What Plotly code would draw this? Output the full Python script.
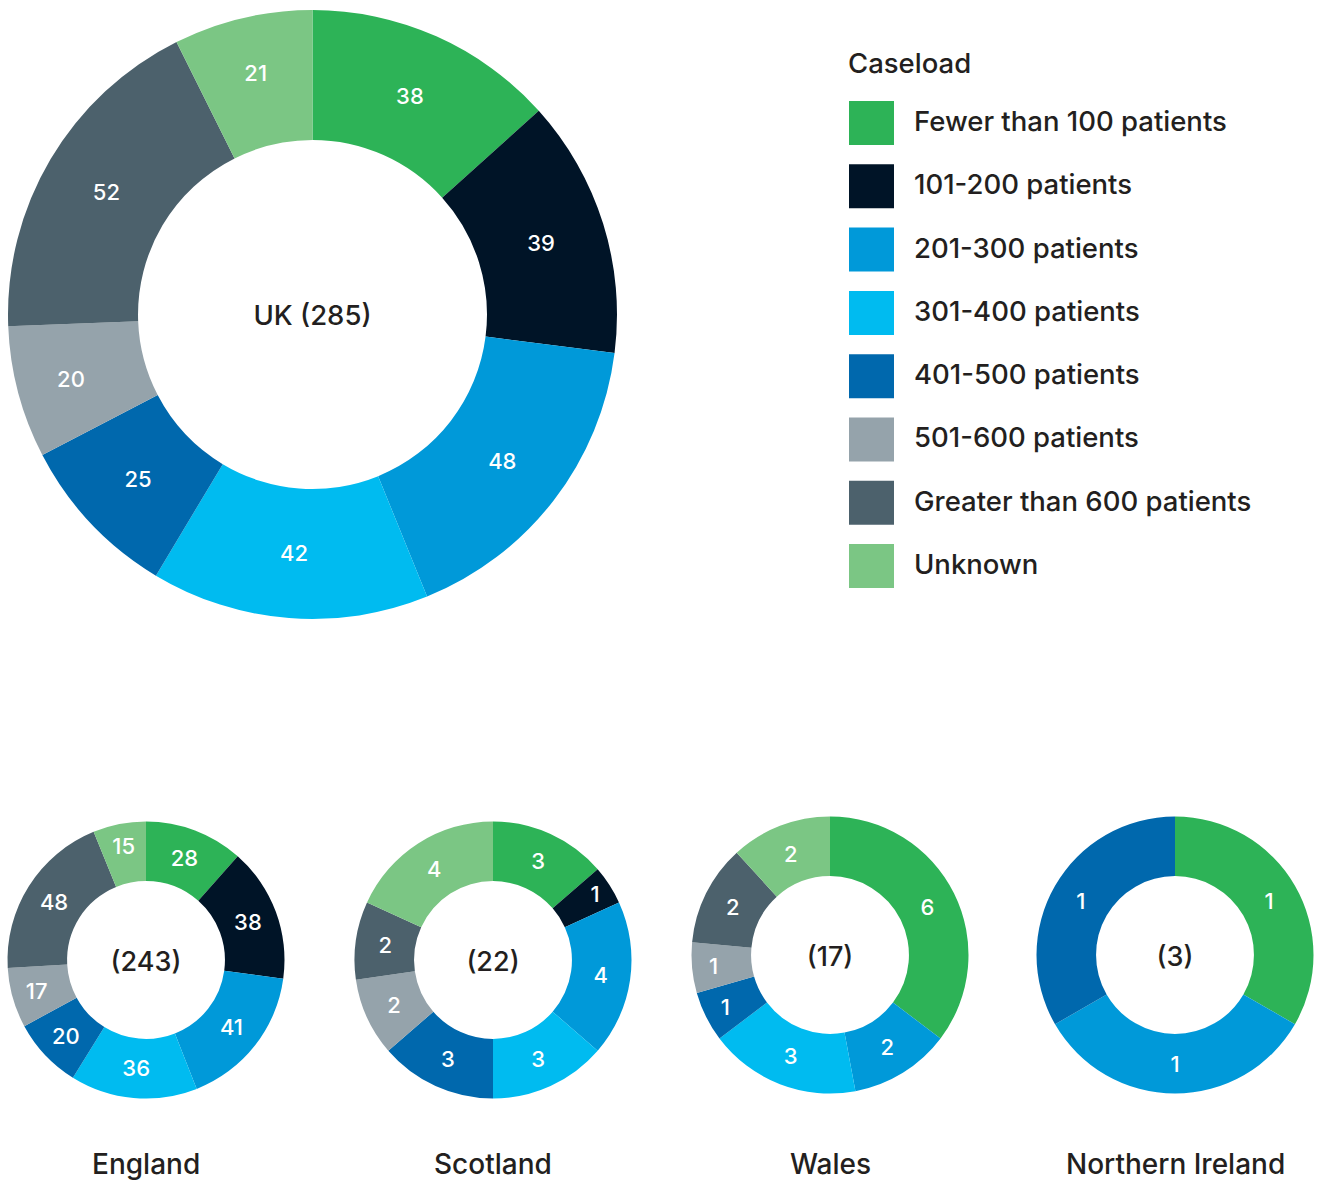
import plotly.graph_objects as go

W, H = 1317, 1182

categories = ["Fewer than 100 patients", "101-200 patients", "201-300 patients",
              "301-400 patients", "401-500 patients", "501-600 patients",
              "Greater than 600 patients", "Unknown"]
colors = ["#2db357", "#001427", "#0099d9", "#00bbf0", "#0068ad", "#95a3ab", "#4c616c", "#7bc684"]

uk = [38, 39, 48, 42, 25, 20, 52, 21]
england = [28, 38, 41, 36, 20, 17, 48, 15]
scotland = [3, 1, 4, 3, 3, 2, 2, 4]
wales = [6, 0, 2, 3, 1, 1, 2, 2]
northern_ireland = [1, 0, 1, 0, 1, 0, 0, 0]

FONT = "Inter, Liberation Sans, Arial, sans-serif"
TXT = "#231f20"


def px_dom(x0, x1, y0, y1):
    return dict(x=[x0 / W, x1 / W], y=[1 - y1 / H, 1 - y0 / H])


def donut(vals, title, dom, hole, tsize, lsize):
    lab = [c for c, v in zip(categories, vals) if v > 0]
    val = [v for v in vals if v > 0]
    col = [c for c, v in zip(colors, vals) if v > 0]
    return go.Pie(
        labels=lab, values=val, marker=dict(colors=col, line=dict(width=0)),
        sort=False, direction="clockwise", rotation=0, hole=hole,
        textinfo="value", textposition="inside", insidetextorientation="horizontal",
        textfont=dict(family=FONT, size=lsize, color="white", weight=500),
        title=dict(text=title, position="middle center",
                   font=dict(family=FONT, size=tsize, color=TXT, weight=500)),
        domain=dom, showlegend=False, hoverinfo="label+value",
    )


fig = go.Figure()
fig.add_trace(donut(uk, f"UK ({sum(uk)})", px_dom(8, 617, 10, 619), 0.573, 27.5, 22))

small = [("England", england, 146, 960), ("Scotland", scotland, 493, 960),
         ("Wales", wales, 830, 955), ("Northern Ireland", northern_ireland, 1175, 955)]
R = 138.5
annotations = []
for name, vals, cx, cy in small:
    fig.add_trace(donut(vals, f"({sum(vals)})", px_dom(cx - R, cx + R, cy - R, cy + R), 0.57, 27, 22))
    annotations.append(dict(text=name, x=cx / W, y=1 - 1164 / H, xref="paper", yref="paper",
                            xanchor="center", yanchor="middle", showarrow=False,
                            font=dict(family=FONT, size=28, color=TXT, weight=500)))

# custom legend
shapes = []
annotations.append(dict(text="Caseload", x=846 / W, y=1 - 63 / H, xref="paper", yref="paper",
                        xanchor="left", yanchor="middle", showarrow=False,
                        font=dict(family=FONT, size=27.5, color=TXT, weight=500)))
for i, (c, col) in enumerate(zip(categories, colors)):
    top = 101 + i * 63.3
    shapes.append(dict(type="rect", xref="paper", yref="paper",
                       x0=849 / W, x1=894 / W, y0=1 - (top + 44) / H, y1=1 - top / H,
                       fillcolor=col, line=dict(width=0)))
    annotations.append(dict(text=c, x=912 / W, y=1 - (top + 20) / H, xref="paper", yref="paper",
                            xanchor="left", yanchor="middle", showarrow=False,
                            font=dict(family=FONT, size=27.5, color=TXT, weight=500)))

fig.update_layout(width=W, height=H, margin=dict(l=0, r=0, t=0, b=0),
                  paper_bgcolor="white", plot_bgcolor="white",
                  shapes=shapes, annotations=annotations, font=dict(family=FONT))
fig.write_html("out.html", config={"displayModeBar": False},
               post_script="document.body.style.margin='0';document.body.style.overflow='hidden';")
